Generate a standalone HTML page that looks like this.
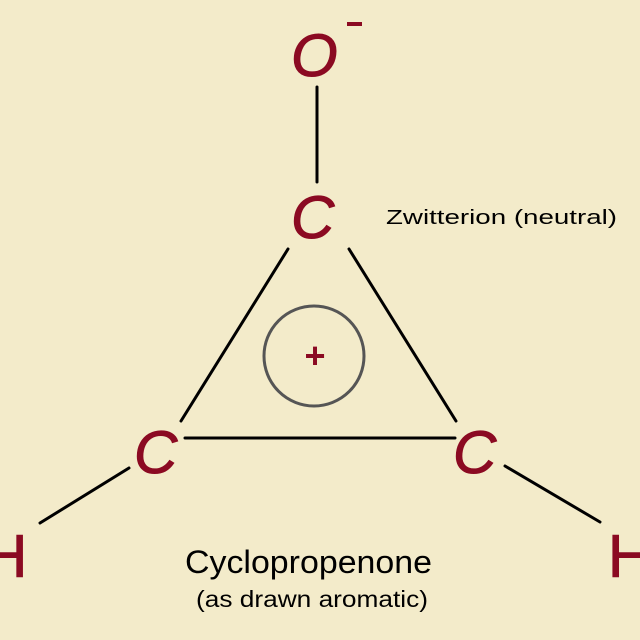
<!DOCTYPE html>
<html><head><meta charset="utf-8"><style>
html,body{margin:0;padding:0;background:#f3ebca;}
svg{display:block;}
</style></head><body>
<svg width="640" height="640" viewBox="0 0 640 640" xmlns="http://www.w3.org/2000/svg">
<rect width="640" height="640" fill="#f3ebca"/>
<g stroke="#000" stroke-width="3" stroke-linecap="round">
<line x1="317" y1="87" x2="317" y2="182"/>
<line x1="288" y1="249" x2="181" y2="421"/>
<line x1="349" y1="249" x2="456" y2="421"/>
<line x1="185" y1="438" x2="455" y2="438"/>
<line x1="129" y1="468" x2="40" y2="523"/>
<line x1="505" y1="466" x2="600" y2="522"/>
</g>
<circle cx="314" cy="356" r="50" fill="none" stroke="#555" stroke-width="3"/>
<g fill="#8b0a22" font-family="Liberation Sans, sans-serif" font-style="italic" stroke="#8b0a22" stroke-width="1">
<text x="291" y="76" font-size="60">O</text>
<text x="291" y="238" font-size="60">C</text>
<text x="134" y="473" font-size="60">C</text>
<text x="453" y="473" font-size="60">C</text>
</g>
<rect x="347" y="22" width="15" height="4" fill="#8b0a22"/>
<g fill="#8b0a22" font-family="Liberation Sans, sans-serif" font-size="60" stroke="#8b0a22" stroke-width="1">
<text x="-16" y="577">H</text>
<text x="608" y="577">H</text>
</g>
<text x="315" y="368" font-family="Liberation Sans, sans-serif" font-size="36" font-weight="bold" fill="#8b0a22" text-anchor="middle">+</text>
<g font-family="Liberation Sans, sans-serif" fill="#000">
<text x="386" y="224" font-size="20" textLength="231" lengthAdjust="spacingAndGlyphs">Zwitterion (neutral)</text>
<text x="185" y="573" font-size="32" textLength="247" lengthAdjust="spacingAndGlyphs">Cyclopropenone</text>
<text x="196" y="607" font-size="23" textLength="232" lengthAdjust="spacingAndGlyphs">(as drawn aromatic)</text>
</g>
</svg>
</body></html>
